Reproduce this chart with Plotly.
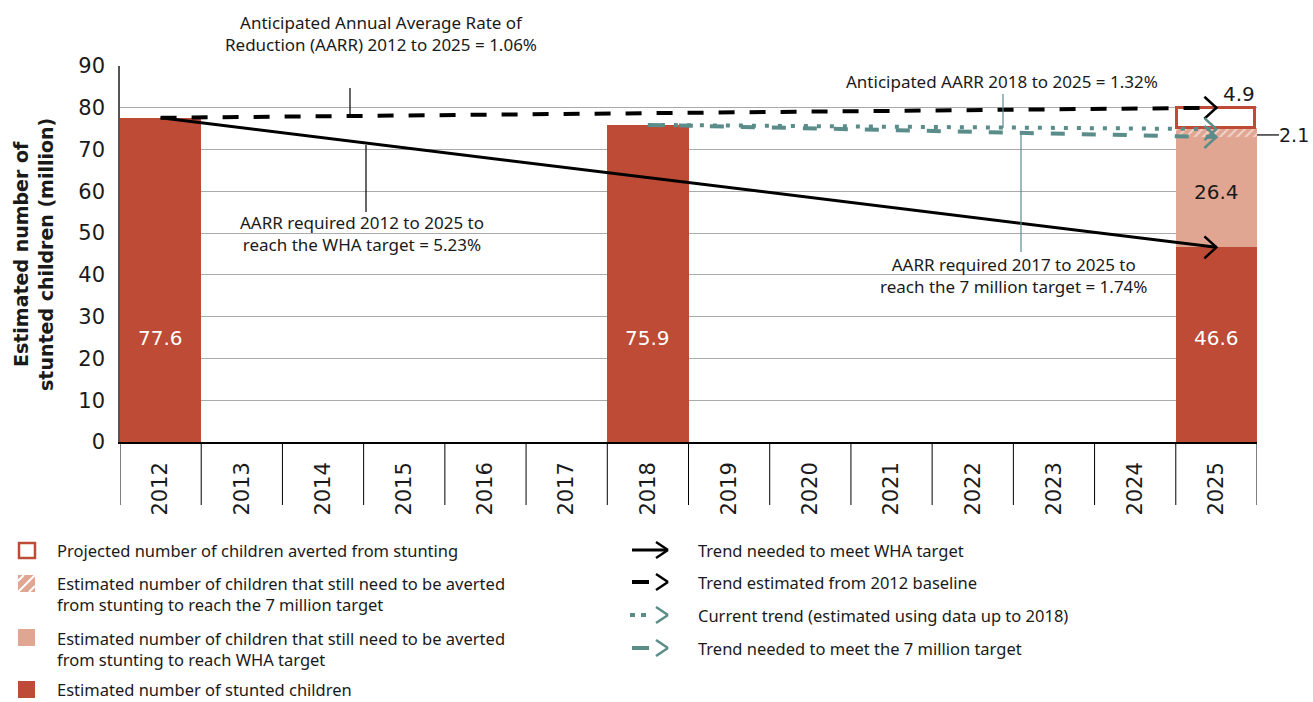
import plotly.graph_objects as go

# ---------------- data ----------------
years = [2012, 2013, 2014, 2015, 2016, 2017, 2018, 2019, 2020, 2021, 2022, 2023, 2024, 2025]
stunted_years = [2012, 2018, 2025]
stunted_vals = [77.6, 75.9, 46.6]
gap_wha_years = [2025]
gap_wha_vals = [26.4]
gap_7m_years = [2025]
gap_7m_vals = [2.1]
averted_years = [2025]
averted_vals = [4.9]

wha_trend_years = [2012, 2025]
wha_trend_vals = [77.6, 46.6]
base_trend_years = [2012, 2025]
base_trend_vals = [77.6, 80.0]
current_trend_years = [2018, 2025]
current_trend_vals = [75.9, 74.9]
target7_trend_years = [2018, 2025]
target7_trend_vals = [75.9, 73.0]

# ---------------- style ----------------
W, H = 1313, 702
DARK = "#BD4B36"
LIGHT = "#E0A692"
TEAL = "#5A8C8A"
TXT = "#1a1a1a"
FONT_A = "DejaVu Sans"
FONT_B = "Noto Sans"

X0, X1, Y0, Y1 = 120, 1257, 442, 66   # plot area in pixels
YMAX = 90


def fx(px):
    return px / W


def fy(py):
    return 1 - py / H


def idx(yrs):
    return [years.index(y) for y in yrs]


XS = (X1 - X0) / len(years)   # px per category
YS = (Y0 - Y1) / YMAX         # px per unit


def data_px_x(xv):
    return X0 + (xv + 0.5) * XS


def data_px_y(yv):
    return Y0 - yv * YS


def chevron(xe, ye):
    return ([xe - 12 / XS, xe, xe - 12 / XS], [ye + 11 / YS, ye, ye - 11 / YS])


fig = go.Figure()

# bars
fig.add_trace(go.Bar(x=idx(stunted_years), y=stunted_vals, width=1,
                     marker=dict(color=DARK, line=dict(width=0))))
fig.add_trace(go.Bar(x=idx(gap_wha_years), y=gap_wha_vals, width=1,
                     marker=dict(color=LIGHT, line=dict(width=0))))
fig.add_trace(go.Bar(x=idx(gap_7m_years), y=gap_7m_vals, width=1,
                     marker=dict(color=LIGHT, line=dict(width=0),
                                 pattern=dict(shape="/", fgcolor="white", bgcolor=LIGHT,
                                              size=6, solidity=0.35))))
fig.add_trace(go.Bar(x=idx(averted_years), y=averted_vals, width=0.96,
                     marker=dict(color="white", line=dict(color=DARK, width=3))))

# trend lines
trends = [
    (wha_trend_years, wha_trend_vals, "black", 3, "solid"),
    (base_trend_years, base_trend_vals, "black", 4, "16px,15px"),
    (current_trend_years, current_trend_vals, TEAL, 4, "4px,9px"),
    (target7_trend_years, target7_trend_vals, TEAL, 4, "14px,17px"),
]
for yrs, vals, col, wd, dash in trends:
    xs = idx(yrs)
    fig.add_trace(go.Scatter(x=xs, y=vals, mode="lines",
                             line=dict(color=col, width=wd, dash=dash)))
    cx, cy = chevron(xs[-1], vals[-1])
    fig.add_trace(go.Scatter(x=cx, y=cy, mode="lines",
                             line=dict(color=col, width=2.5)))

shapes = []
annotations = []

# category separators below the axis
for k in range(len(years) + 1):
    shapes.append(dict(type="line", xref="x", yref="paper", x0=k - 0.5, x1=k - 0.5,
                       y0=fy(Y0), y1=fy(505), line=dict(color="black", width=1)))

# bar value labels
for xv, v in zip(idx(stunted_years), stunted_vals):
    annotations.append(dict(x=xv, y=25, xref="x", yref="y", text=f"{v:.1f}", showarrow=False,
                            xanchor="center", yanchor="middle",
                            font=dict(family=FONT_A, size=20, color="white")))
base = stunted_vals[-1]
annotations.append(dict(x=idx(gap_wha_years)[0], y=base + gap_wha_vals[0] / 2, xref="x", yref="y",
                        text=f"{gap_wha_vals[0]:.1f}", showarrow=False,
                        xanchor="center", yanchor="middle",
                        font=dict(family=FONT_A, size=20, color=TXT)))
top = base + gap_wha_vals[0] + gap_7m_vals[0] + averted_vals[0]
annotations.append(dict(x=idx(averted_years)[0] + 0.5, y=top, xref="x", yref="y",
                        text=f"{averted_vals[0]:.1f}", showarrow=False, xanchor="right",
                        yanchor="bottom", font=dict(family=FONT_A, size=20, color=TXT)))
# 2.1 label outside the plot area (paper coordinates derived from the data scale)
lead_py = data_px_y(base + gap_wha_vals[0] + 0.5)
lead_px0 = data_px_x(len(years) - 0.5)
shapes.append(dict(type="line", xref="paper", yref="paper", x0=fx(lead_px0), x1=fx(lead_px0 + 22),
                   y0=fy(lead_py), y1=fy(lead_py), line=dict(color="#333", width=1.5)))
annotations.append(dict(x=fx(W - 2), y=fy(lead_py), xref="paper", yref="paper",
                        text=f"{gap_7m_vals[0]:.1f}", showarrow=False, xanchor="right",
                        yanchor="middle", font=dict(family=FONT_A, size=19, color=TXT)))

# callout texts and leader lines
callouts = [
    ("Anticipated Annual Average Rate of<br>Reduction (AARR) 2012 to 2025 = 1.06%", 381, 33.5, "black", (350, 88, 116)),
    ("AARR required 2012 to 2025 to<br>reach the WHA target = 5.23%", 362, 233, "black", (366, 145, 212)),
    ("Anticipated AARR 2018 to 2025 = 1.32%", 1002, 82, TEAL, (1003, 94, 128)),
    ("AARR required 2017 to 2025 to<br>reach the 7 million target = 1.74%", 1013, 275, TEAL, (1021, 134, 252)),
]
for text, cxp, cyp, lc, (lx, ly0, ly1) in callouts:
    annotations.append(dict(x=fx(cxp), y=fy(cyp), xref="paper", yref="paper", text=text,
                            showarrow=False, align="center", xanchor="center", yanchor="middle",
                            font=dict(family=FONT_B, size=17, color=TXT)))
    shapes.append(dict(type="line", xref="paper", yref="paper", x0=fx(lx), x1=fx(lx),
                       y0=fy(ly0), y1=fy(ly1), line=dict(color=lc, width=1.2)))

# y-axis title
annotations.append(dict(x=fx(33), y=fy(255), xref="paper", yref="paper",
                        text="<b>Estimated number of<br>stunted children (million)</b>",
                        textangle=-90, showarrow=False, align="center",
                        xanchor="center", yanchor="middle",
                        font=dict(family=FONT_A, size=19, color=TXT)))

# ---------------- legend (left column) ----------------
def rect(x0, y0, x1, y1, fill, line=None):
    shapes.append(dict(type="rect", xref="paper", yref="paper", x0=fx(x0), x1=fx(x1),
                       y0=fy(y0), y1=fy(y1), fillcolor=fill,
                       line=line if line else dict(width=0)))


def seg(x0, y0, x1, y1, color, width, dash="solid"):
    shapes.append(dict(type="line", xref="paper", yref="paper", x0=fx(x0), x1=fx(x1),
                       y0=fy(y0), y1=fy(y1), line=dict(color=color, width=width, dash=dash)))


def ltext(x, y, text):
    annotations.append(dict(x=fx(x - 2), y=fy(y), xref="paper", yref="paper", text=text,
                            showarrow=False, xanchor="left", yanchor="middle", align="left",
                            font=dict(family=FONT_B, size=16.5, color=TXT)))


rect(19, 543, 35, 558, "white", dict(color=DARK, width=2.5))
ltext(57, 550, "Projected number of children averted from stunting")

rect(18, 575, 35, 592, LIGHT)
seg(18, 581, 24, 575, "white", 2)
seg(18, 592, 35, 575, "white", 2)
seg(29, 592, 35, 586, "white", 2)
ltext(57, 594, "Estimated number of children that still need to be averted<br>from stunting to reach the 7 million target")

rect(18, 629, 35, 646, LIGHT)
ltext(57, 649, "Estimated number of children that still need to be averted<br>from stunting to reach WHA target")

rect(18, 681, 35, 698, DARK)
ltext(57, 689, "Estimated number of stunted children")

# ---------------- legend (right column) ----------------
def chev_px(xt, yt, color):
    seg(xt - 12, yt - 8, xt, yt, color, 2.5)
    seg(xt, yt, xt - 12, yt + 8, color, 2.5)


seg(632, 550, 667, 550, "black", 3)
chev_px(668, 550, "black")
ltext(698, 550, "Trend needed to meet WHA target")

seg(632, 582, 649, 582, "black", 4)
chev_px(668, 582, "black")
ltext(698, 582, "Trend estimated from 2012 baseline")

seg(630, 615, 635, 615, TEAL, 4)
seg(641, 615, 646, 615, TEAL, 4)
chev_px(668, 615, TEAL)
ltext(698, 615, "Current trend (estimated using data up to 2018)")

seg(632, 648, 649, 648, TEAL, 4)
chev_px(668, 648, TEAL)
ltext(698, 648, "Trend needed to meet the 7 million target")

fig.update_layout(
    width=W, height=H,
    margin=dict(l=0, r=0, t=0, b=0, autoexpand=False),
    plot_bgcolor="white", paper_bgcolor="white",
    barmode="stack", bargap=0, showlegend=False,
    shapes=shapes, annotations=annotations,
    xaxis=dict(domain=[fx(X0), fx(X1)], range=[-0.5, len(years) - 0.5],
               tickmode="array", tickvals=list(range(len(years))),
               ticktext=[str(y) for y in years], tickangle=-90, automargin=False,
               showgrid=False, zeroline=False, showline=True, linecolor="black", linewidth=1.5,
               ticks="", ticklabelstandoff=10,
               tickfont=dict(family=FONT_A, size=21, color=TXT)),
    yaxis=dict(domain=[fy(Y0), fy(Y1)], range=[0, YMAX], dtick=10, automargin=False,
               showgrid=True, gridcolor="#AAAAAA", gridwidth=1, zeroline=False,
               showline=True, linecolor="#555555", linewidth=1.5,
               ticks="", ticklabelstandoff=9,
               tickfont=dict(family=FONT_A, size=21, color=TXT)),
)

fig.write_html("out.html", config={"displayModeBar": False},
               post_script="document.body.style.margin='0';")
